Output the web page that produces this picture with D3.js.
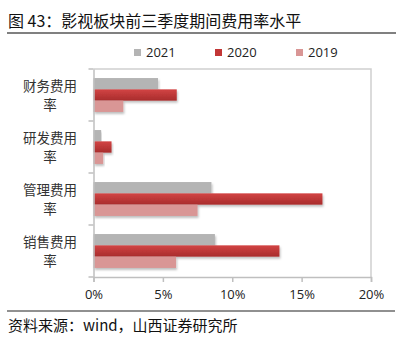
<!DOCTYPE html>
<html><head><meta charset="utf-8">
<script src="https://cdn.jsdelivr.net/npm/d3@7"></script>
<style>body{margin:0;background:#fff}svg{display:block}</style>
</head><body>
<script>
const categories = ["财务费用率", "研发费用率", "管理费用率", "销售费用率"];
const seriesNames = ["2021", "2020", "2019"];
const values2021 = [4.65, 0.55, 8.5, 8.75];
const values2020 = [6.0, 1.3, 16.5, 13.4];
const values2019 = [2.15, 0.7, 7.5, 5.95];
const xTicks = [0, 5, 10, 15, 20];
const titleText = "图 43：影视板块前三季度期间费用率水平";
const sourceText = "资料来源：wind，山西证券研究所";

(function () {
const W = 399, H = 345;
const svg = d3.select("body").append("svg").attr("width", W).attr("height", H);
const defs = svg.append("defs");
const gr = defs.append("linearGradient").attr("id", "gRed").attr("x1", 0).attr("y1", 0).attr("x2", 0).attr("y2", 1);
gr.append("stop").attr("offset", "0%").attr("stop-color", "#d24444");
gr.append("stop").attr("offset", "100%").attr("stop-color", "#a82c2c");
const sh = defs.append("filter").attr("id", "sh").attr("x", "-5%").attr("y", "-20%").attr("width", "115%").attr("height", "160%");
sh.append("feDropShadow").attr("dx", 1).attr("dy", 2).attr("stdDeviation", 1).attr("flood-color", "#000").attr("flood-opacity", 0.25);

const colors = ["#b4b4b4", "url(#gRed)", "#d99695"];
const legendColors = ["#b4b4b4", "#c23636", "#d99695"];
const seriesVals = [values2021, values2020, values2019];

svg.append("text").attr("x", 8).attr("y", 27).text(titleText)
  .attr("font-family", "Noto Sans CJK SC").attr("font-size", 16).attr("fill", "#111");
svg.append("line").attr("x1", 7).attr("x2", 396).attr("y1", 33).attr("y2", 33)
  .attr("stroke", "#808080").attr("stroke-width", 2);

const pl = 93.5, pr = 371, pt = 69, pb = 277;
const x = d3.scaleLinear().domain([0, 20]).range([pl, pr]);
const y = d3.scaleBand().domain(categories).range([pt, pb]);
const inner = d3.scaleBand().domain(seriesNames).range([0, y.bandwidth()]).paddingOuter(0.8);

svg.append("path").attr("d", `M${pl},${pt}H${pr}V${pb}`).attr("fill", "none")
  .attr("stroke", "#d0d0d0").attr("stroke-width", 1.5);

seriesNames.forEach((s, si) => {
  svg.append("g").selectAll("rect").data(categories).join("rect")
    .attr("x", x(0)).attr("y", (c) => y(c) + inner(s))
    .attr("width", (c, i) => x(seriesVals[si][i]) - x(0))
    .attr("height", inner.bandwidth())
    .attr("fill", colors[si]).attr("filter", "url(#sh)");
});

const yAxis = svg.append("g").attr("transform", `translate(${pl},0)`)
  .call(d3.axisLeft(y).tickSize(0).tickFormat(""));
yAxis.select(".domain").attr("stroke", "#bfbfbf").attr("stroke-width", 1.5);
svg.append("g").selectAll("line").data(d3.range(categories.length + 1)).join("line")
  .attr("x1", pl - 5).attr("x2", pl).attr("y1", (d) => pt + d * y.step()).attr("y2", (d) => pt + d * y.step())
  .attr("stroke", "#bfbfbf").attr("stroke-width", 1.5);

const xAxis = svg.append("g").attr("transform", `translate(0,${pb})`)
  .call(d3.axisBottom(x).tickValues(xTicks).tickSize(5).tickPadding(8).tickFormat((d) => d + "%"));
xAxis.select(".domain").attr("stroke", "#bfbfbf").attr("stroke-width", 1.5);
xAxis.selectAll(".tick line").attr("stroke", "#bfbfbf").attr("stroke-width", 1.5);
xAxis.selectAll("text").attr("font-family", "Open Sans").attr("font-size", 13).attr("fill", "#222");

categories.forEach((c) => {
  const cy = y(c) + y.bandwidth() / 2;
  const t = svg.append("text").attr("text-anchor", "middle").attr("font-family", "Noto Sans CJK SC")
    .attr("font-size", 13.5).attr("fill", "#333");
  t.append("tspan").attr("x", 50).attr("y", cy - 4.5).text(c.slice(0, 4));
  t.append("tspan").attr("x", 50).attr("y", cy + 15).text(c.slice(4));
});

const legX = [134, 215, 296];
seriesNames.forEach((s, i) => {
  svg.append("rect").attr("x", legX[i]).attr("y", 49).attr("width", 7).attr("height", 7).attr("fill", legendColors[i]);
  svg.append("text").attr("x", legX[i] + 12).attr("y", 57).text(s)
    .attr("font-family", "Open Sans").attr("font-size", 13).attr("fill", "#222");
});

svg.append("line").attr("x1", 7).attr("x2", 395).attr("y1", 311).attr("y2", 311)
  .attr("stroke", "#222").attr("stroke-width", 1.2);
svg.append("text").attr("x", 8).attr("y", 331).text(sourceText)
  .attr("font-family", "Noto Sans CJK SC").attr("font-size", 15).attr("fill", "#111");
})();
</script>
</body></html>
